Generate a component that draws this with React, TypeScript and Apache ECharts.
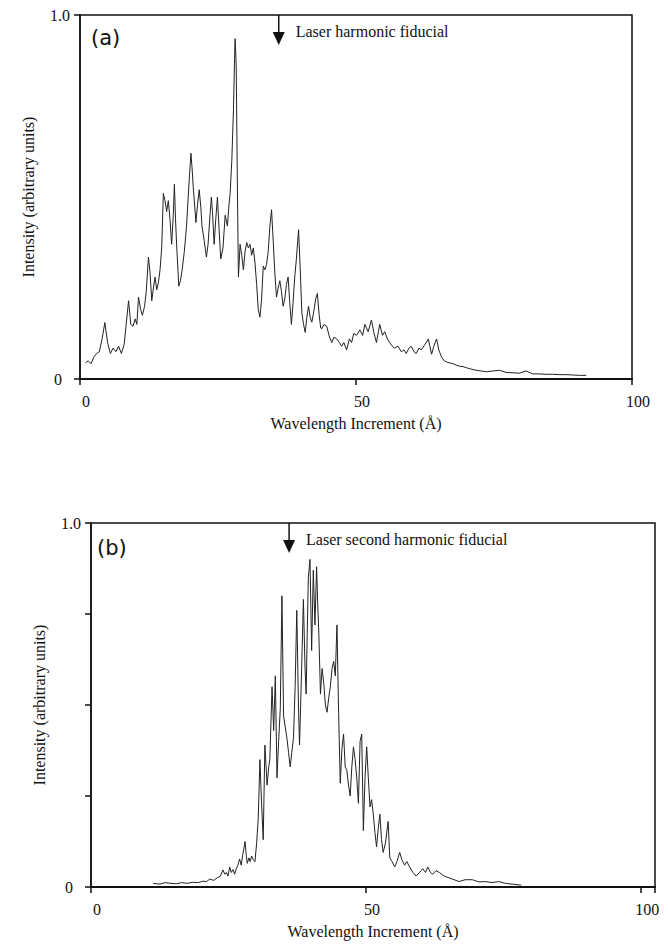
import React, { useEffect, useRef } from 'react';
import * as echarts from 'echarts';

// Panel (a) spectrum: wavelength increment (Å) and relative intensity
const specAX = [1.0, 1.5, 2.0, 2.5, 3.0, 3.5, 4.0, 4.5, 5.0, 5.5, 6.0, 6.5, 7.0, 7.5, 8.0, 8.5, 8.8, 9.2, 9.6, 10.0, 10.3, 10.6, 11.0, 11.3, 11.7, 12.0, 12.4, 12.7, 13.0, 13.3, 13.6, 13.9, 14.2, 14.5, 14.8, 15.1, 15.4, 15.7, 16.0, 16.3, 16.6, 16.9, 17.1, 17.3, 17.5, 17.9, 18.2, 18.5, 18.9, 19.3, 19.6, 19.8, 20.1, 20.3, 20.5, 20.8, 21.0, 21.3, 21.6, 21.9, 22.1, 22.5, 22.9, 23.2, 23.5, 23.8, 24.0, 24.3, 24.6, 24.9, 25.2, 25.5, 25.9, 26.3, 26.7, 27.0, 27.2, 27.5, 27.8, 28.0, 28.1, 28.3, 28.5, 28.7, 29.0, 29.3, 29.6, 29.9, 30.2, 30.5, 30.8, 31.1, 31.4, 31.7, 32.0, 32.3, 32.6, 32.9, 33.2, 33.5, 33.8, 34.1, 34.4, 34.7, 35.0, 35.3, 35.6, 35.9, 36.2, 36.5, 36.8, 37.1, 37.4, 37.7, 38.0, 38.3, 38.6, 38.9, 39.2, 39.6, 39.9, 40.2, 40.5, 40.8, 41.1, 41.4, 41.7, 42.0, 42.4, 42.7, 43.0, 43.3, 43.6, 43.8, 44.2, 44.7, 45.1, 45.6, 46.0, 46.5, 47.0, 47.4, 47.8, 48.3, 48.8, 49.2, 49.6, 50.1, 50.7, 51.2, 51.6, 52.2, 52.8, 53.2, 53.7, 54.3, 54.8, 55.2, 55.7, 56.1, 56.6, 57.0, 57.6, 58.2, 58.7, 59.1, 59.6, 60.0, 60.5, 60.9, 61.4, 61.8, 62.5, 63.1, 63.7, 64.1, 64.6, 65.0, 65.5, 66.0, 66.4, 67.0, 67.6, 68.2, 68.8, 69.4, 70.0, 70.9, 71.8, 72.7, 73.6, 74.8, 76.0, 77.2, 78.4, 79.6, 80.8, 82.0, 83.2, 84.4, 85.6, 86.8, 88.0, 89.3, 90.5, 91.7];
const specAY = [0.045, 0.05, 0.042, 0.06, 0.07, 0.075, 0.11, 0.155, 0.1, 0.07, 0.085, 0.075, 0.09, 0.07, 0.095, 0.17, 0.215, 0.15, 0.145, 0.165, 0.15, 0.225, 0.19, 0.175, 0.2, 0.24, 0.335, 0.29, 0.215, 0.25, 0.28, 0.245, 0.265, 0.3, 0.36, 0.51, 0.49, 0.46, 0.49, 0.44, 0.37, 0.45, 0.535, 0.44, 0.37, 0.255, 0.27, 0.3, 0.35, 0.42, 0.5, 0.55, 0.62, 0.58, 0.53, 0.47, 0.43, 0.48, 0.52, 0.47, 0.42, 0.38, 0.335, 0.37, 0.44, 0.5, 0.46, 0.37, 0.44, 0.5, 0.41, 0.33, 0.36, 0.45, 0.42, 0.48, 0.51, 0.6, 0.74, 0.88, 0.935, 0.86, 0.55, 0.28, 0.37, 0.34, 0.3, 0.35, 0.375, 0.36, 0.37, 0.34, 0.36, 0.32, 0.26, 0.19, 0.17, 0.22, 0.31, 0.3, 0.315, 0.35, 0.42, 0.465, 0.38, 0.29, 0.225, 0.25, 0.27, 0.24, 0.2, 0.22, 0.26, 0.28, 0.21, 0.15, 0.21, 0.28, 0.33, 0.41, 0.3, 0.18, 0.15, 0.128, 0.17, 0.2, 0.17, 0.156, 0.19, 0.22, 0.235, 0.18, 0.14, 0.138, 0.15, 0.145, 0.12, 0.1, 0.115, 0.11, 0.1, 0.09, 0.1, 0.08, 0.11, 0.1, 0.125, 0.12, 0.135, 0.12, 0.15, 0.13, 0.162, 0.13, 0.1, 0.15, 0.12, 0.13, 0.11, 0.1, 0.09, 0.085, 0.09, 0.075, 0.08, 0.07, 0.085, 0.09, 0.075, 0.07, 0.085, 0.08, 0.095, 0.11, 0.068, 0.09, 0.11, 0.08, 0.06, 0.05, 0.047, 0.044, 0.042, 0.038, 0.035, 0.034, 0.031, 0.027, 0.024, 0.022, 0.02, 0.022, 0.024, 0.018, 0.017, 0.016, 0.022, 0.014, 0.014, 0.013, 0.013, 0.012, 0.012, 0.011, 0.01, 0.01];

// Panel (b) spectrum
const specBX = [11.3, 12.5, 13.5, 14.5, 15.5, 16.5, 17.5, 18.5, 19.5, 20.3, 21.0, 21.6, 22.3, 22.9, 23.5, 24.0, 24.3, 24.6, 24.9, 25.2, 25.5, 25.8, 26.1, 26.4, 26.7, 27.0, 27.3, 27.6, 28.0, 28.2, 28.4, 28.7, 28.9, 29.2, 29.5, 29.8, 30.1, 30.4, 30.7, 31.0, 31.3, 31.6, 32.0, 32.3, 32.5, 32.7, 32.9, 33.2, 33.5, 33.8, 34.1, 34.4, 34.7, 35.0, 35.3, 35.6, 35.9, 36.2, 36.5, 36.8, 37.1, 37.4, 37.7, 37.9, 38.1, 38.3, 38.6, 38.9, 39.1, 39.3, 39.5, 39.8, 40.1, 40.4, 40.7, 41.0, 41.2, 41.4, 41.7, 42.0, 42.3, 42.6, 42.9, 43.2, 43.5, 43.8, 44.1, 44.4, 44.7, 45.0, 45.3, 45.6, 45.9, 46.2, 46.5, 46.8, 47.1, 47.4, 47.7, 48.0, 48.3, 48.6, 48.9, 49.2, 49.5, 49.8, 50.1, 50.4, 50.7, 51.0, 51.3, 51.6, 51.9, 52.2, 52.5, 52.8, 53.1, 53.5, 54.0, 54.3, 54.7, 55.2, 55.6, 56.1, 56.5, 57.0, 57.4, 57.9, 58.5, 59.1, 59.7, 60.3, 60.8, 61.2, 61.7, 62.1, 62.7, 63.3, 64.2, 65.1, 66.0, 66.9, 68.0, 69.3, 70.5, 71.7, 72.9, 74.1, 75.3, 76.5, 78.2];
const specBY = [0.01, 0.008, 0.012, 0.01, 0.009, 0.012, 0.01, 0.013, 0.012, 0.016, 0.015, 0.022, 0.018, 0.025, 0.03, 0.047, 0.035, 0.04, 0.03, 0.055, 0.04, 0.048, 0.035, 0.05, 0.06, 0.077, 0.06, 0.09, 0.125, 0.09, 0.065, 0.08, 0.07, 0.085, 0.075, 0.07, 0.12, 0.19, 0.35, 0.23, 0.13, 0.39, 0.28, 0.33, 0.35, 0.45, 0.55, 0.43, 0.58, 0.3, 0.4, 0.49, 0.8, 0.47, 0.44, 0.41, 0.37, 0.33, 0.37, 0.41, 0.55, 0.76, 0.5, 0.39, 0.5, 0.61, 0.79, 0.6, 0.53, 0.7, 0.85, 0.9, 0.65, 0.87, 0.72, 0.88, 0.78, 0.7, 0.53, 0.6, 0.56, 0.5, 0.48, 0.52, 0.55, 0.6, 0.62, 0.58, 0.72, 0.48, 0.285, 0.38, 0.42, 0.33, 0.32, 0.28, 0.25, 0.33, 0.385, 0.35, 0.3, 0.23, 0.4, 0.42, 0.155, 0.3, 0.385, 0.3, 0.22, 0.24, 0.2, 0.15, 0.11, 0.16, 0.2, 0.13, 0.095, 0.12, 0.18, 0.08, 0.07, 0.055, 0.07, 0.095, 0.075, 0.06, 0.07, 0.055, 0.04, 0.03, 0.04, 0.05, 0.04, 0.055, 0.04, 0.035, 0.045, 0.04, 0.03, 0.025, 0.02, 0.015, 0.02, 0.02, 0.014, 0.015, 0.012, 0.015, 0.01, 0.008, 0.005];

const xTickValues = [0, 50, 100];
const yTickLabels = ['0', '1.0'];
const fiducialA = 36.0;
const fiducialB = 36.0;
const noteA = 'Laser harmonic fiducial';
const noteB = 'Laser second harmonic fiducial';
const panelA = '(a)';
const panelB = '(b)';
const xTitle = 'Wavelength Increment (Å)';
const yTitle = 'Intensity (arbitrary units)';

const SERIF = '"Liberation Serif", "Times New Roman", serif';
const INK = '#111';

function pairs(xs: number[], ys: number[]) {
  return xs.map((x, i) => [x, ys[i]]);
}

export default function App() {
  const ref = useRef<HTMLDivElement>(null);
  useEffect(() => {
    if (!ref.current) return;
    const chart = echarts.init(ref.current, undefined, { renderer: 'svg' });

    const grids = [
      { left: 80, top: 15, width: 552, height: 364 },
      { left: 91, top: 523, width: 564, height: 364 },
    ];
    const xMax = [100, 102.5];
    const yInterval = [1, 0.25];

    const xAxes = grids.map((_, i) => ({
      type: 'value',
      gridIndex: i,
      min: 0,
      max: xMax[i],
      interval: 50,
      name: xTitle,
      nameLocation: 'middle',
      nameGap: 36,
      nameTextStyle: { fontFamily: SERIF, fontSize: 16, color: INK },
      axisLine: { show: true, onZero: false, lineStyle: { color: INK, width: 2 } },
      axisTick: { show: true, inside: false, length: 6, lineStyle: { color: INK, width: 1.5 } },
      axisLabel: {
        show: true,
        margin: 14,
        fontFamily: SERIF,
        fontSize: 16,
        color: INK,
        showMaxLabel: true,
        padding: [0, 0, 0, 12],
        formatter: (v: number) => (xTickValues.includes(v) ? String(v) : ''),
      },
      splitLine: { show: false },
    }));

    const yAxes = grids.map((_, i) => ({
      type: 'value',
      gridIndex: i,
      min: 0,
      max: 1,
      interval: yInterval[i],
      name: yTitle,
      nameLocation: 'middle',
      nameRotate: 90,
      nameGap: 44,
      nameTextStyle: { fontFamily: SERIF, fontSize: 16, color: INK },
      axisLine: { show: true, lineStyle: { color: INK, width: 1.5 } },
      axisTick: { show: true, inside: false, length: 6, lineStyle: { color: INK, width: 1.5 } },
      axisLabel: {
        show: true,
        margin: 10,
        fontFamily: SERIF,
        fontSize: 16,
        color: INK,
        formatter: (v: number) => (v === 0 ? '{z|' + yTickLabels[0] + '}' : v === 1 ? yTickLabels[1] : ''),
        rich: { z: { fontFamily: SERIF, fontSize: 16, color: INK, padding: [0, 8, 0, 0] } },
      },
      splitLine: { show: false },
    }));

    chart.setOption({
      animation: false,
      backgroundColor: '#fff',
      grid: grids.map((g) => ({ ...g, show: true, borderColor: INK, borderWidth: 1.5, backgroundColor: 'transparent' })),
      xAxis: xAxes,
      yAxis: yAxes,
      series: [
        {
          type: 'line',
          xAxisIndex: 0,
          yAxisIndex: 0,
          data: pairs(specAX, specAY),
          showSymbol: false,
          lineStyle: { color: '#222', width: 1 },
        },
        {
          type: 'line',
          xAxisIndex: 1,
          yAxisIndex: 1,
          data: pairs(specBX, specBY),
          showSymbol: false,
          lineStyle: { color: '#222', width: 1 },
        },
      ],
    });

    const ax = chart.convertToPixel({ gridIndex: 0 }, [fiducialA, 1]) as number[];
    const bx = chart.convertToPixel({ gridIndex: 1 }, [fiducialB, 1]) as number[];

    const arrow = (x: number, top: number, note: string) => [
      { type: 'line', shape: { x1: x, y1: top, x2: x, y2: top + 18 }, style: { stroke: INK, lineWidth: 1.5 } },
      { type: 'polygon', shape: { points: [[x - 6, top + 17], [x + 6, top + 17], [x, top + 30]] }, style: { fill: INK } },
      { type: 'text', x: x + 17, y: top + 16, style: { text: note, font: '16px ' + SERIF, fill: INK, verticalAlign: 'middle', textAlign: 'left' } },
    ];

    chart.setOption({
      graphic: [
        ...arrow(ax[0], ax[1], noteA),
        ...arrow(bx[0], bx[1], noteB),
        { type: 'text', x: grids[0].left + 11, y: grids[0].top + 23, style: { text: panelA, font: '21px "DejaVu Sans", sans-serif', fill: INK, verticalAlign: 'middle' } },
        { type: 'text', x: grids[1].left + 6, y: grids[1].top + 25, style: { text: panelB, font: '21px "DejaVu Sans", sans-serif', fill: INK, verticalAlign: 'middle' } },
      ],
    });

    return () => chart.dispose();
  }, []);

  return <div ref={ref} style={{ position: 'absolute', left: 0, top: 0, width: 668, height: 945 }} />;
}
